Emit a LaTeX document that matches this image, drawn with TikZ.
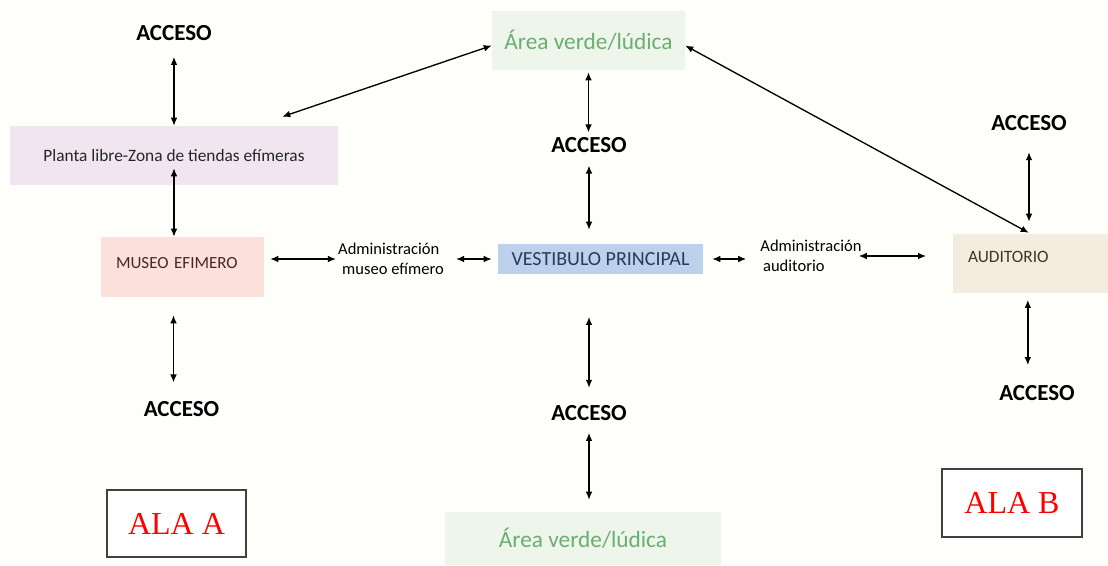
\documentclass[tikz,border=0pt]{standalone}
\usepackage{fontspec}
\setmainfont{Carlito}
\newfontfamily\alafont{Liberation Serif}
\usetikzlibrary{arrows.meta, positioning}

\definecolor{fondo}{HTML}{FEFEFA}
\definecolor{plantafill}{HTML}{F1E5F0}
\definecolor{museofill}{HTML}{FCE0DC}
\definecolor{vestfill}{HTML}{BED1EC}
\definecolor{auditfill}{HTML}{F4EDDF}
\definecolor{verdefill}{HTML}{EEF6EC}
\definecolor{verdetxt}{HTML}{6BAE70}
\definecolor{vesttxt}{HTML}{2B3A55}
\definecolor{museotxt}{HTML}{4A2626}
\definecolor{audittxt}{HTML}{3F3528}
\definecolor{borde}{HTML}{404040}

\tikzset{
  acceso/.style={font=\bfseries\fontsize{17.25}{20}\selectfont, inner sep=0pt},
  zona/.style={rectangle, inner sep=0pt},
  admin/.style={font=\fontsize{12.4}{15}\selectfont, align=left, inner sep=0pt},
  ala/.style={draw=borde, line width=1.1pt, fill=white, text=red,
    font=\alafont\fontsize{24}{28}\selectfont, inner sep=0pt},
  flecha/.style={{Latex[length=6pt,width=5pt]}-{Latex[length=6pt,width=5pt]}, line width=1pt}
}

\begin{document}
\begin{tikzpicture}[x=0.75pt, y=-0.75pt]
  \fill[fondo] (0,0) rectangle (1108,565);
  \useasboundingbox (0,0) rectangle (1108,565);

  % zonas
  \node[zona, fill=verdefill, text=verdetxt, minimum width=144.75pt, minimum height=44.25pt,
    font=\fontsize{17.5}{20}\selectfont] (verde1) at (588.5,40.5) {Área verde/lúdica};
  \node[zona, fill=plantafill, text=black!85, minimum width=246pt, minimum height=44.25pt,
    font=\fontsize{13}{15}\selectfont] (planta) at (174,155.5) {Planta libre-Zona de tiendas efímeras};
  \node[zona, fill=museofill, text=museotxt, minimum width=122.25pt, minimum height=45pt,
    text width=99.75pt, align=left, text depth=6pt,
    font=\fontsize{12.75}{15}\selectfont] (museo) at (182.5,267) {MUSEO EFIMERO};
  \node[zona, fill=vestfill, text=vesttxt, minimum width=153.75pt, minimum height=22.5pt,
    font=\fontsize{15}{18}\selectfont] (vest) at (600.5,259) {VESTIBULO PRINCIPAL};
  \node[zona, fill=auditfill, text=audittxt, minimum width=116.25pt, minimum height=44.25pt,
    text width=93.75pt, align=left, text depth=10pt,
    font=\fontsize{13}{15}\selectfont] (audit) at (1030.5,263.5) {AUDITORIO};
  \node[zona, fill=verdefill, text=verdetxt, minimum width=207pt, minimum height=39.75pt,
    font=\fontsize{17.5}{20}\selectfont] (verde2) at (583,538.5) {Área verde/lúdica};

  % administraciones
  \node[admin] (adm1) at (391,259) {Administración\\ \hspace{3pt}museo efímero};
  \node[admin] (adm2) at (811,256) {Administración\\ \hspace{2pt}auditorio};

  % accesos
  \node[acceso] (acc1) at (174,33) {ACCESO};
  \node[acceso] (acc2) at (589,145) {ACCESO};
  \node[acceso] (acc3) at (1029,123) {ACCESO};
  \node[acceso] (acc4) at (181.5,409) {ACCESO};
  \node[acceso] (acc5) at (589,413) {ACCESO};
  \node[acceso] (acc6) at (1037,393) {ACCESO};

  % alas
  \node[ala, minimum width=104.25pt, minimum height=50.25pt] (alaA) at (176.5,523.5) {ALA A};
  \node[ala, minimum width=105pt, minimum height=51pt] (alaB) at (1012,503) {ALA B};

  % conexiones
  \draw[flecha, shorten <=12pt] (acc1.south) -- (acc1.south |- planta.north);
  \draw[flecha, shorten <=-12.75pt] (planta.south) -- (planta.south |- museo.north);
  \draw[flecha, shorten <=4.5pt, shorten >=1.5pt] (museo.east |- adm1.west) -- (adm1.west);
  \draw[flecha, shorten <=9pt, shorten >=4.5pt] (adm1.east) -- (adm1.east -| vest.west);
  \draw[flecha, shorten <=6.75pt, shorten >=10.5pt] (vest.east) -- (vest.east -| adm2.west);
  \draw[flecha, shorten <=-2.25pt, shorten >=20pt] (adm2.east) -- (adm2.east -| audit.west);
  \draw[flecha, shorten <=16pt, shorten >=9pt] (acc3.south) -- (acc3.south |- audit.north);
  \draw[flecha, shorten <=1.5pt] (audit.north) -- (verde1.-3);
  \draw[flecha] ([xshift=-42pt, yshift=6.75pt]planta.north east) -- (verde1.183);
  \draw[flecha, shorten <=1.5pt, shorten >=3.5pt] (verde1.south) -- (verde1.south |- acc2.north);
  \draw[flecha, shorten <=9.5pt, shorten >=10.5pt] (acc2.south) -- (acc2.south |- vest.north);
  \draw[flecha, shorten <=32pt, shorten >=13pt] (acc5.north |- vest.south) -- (acc5.north);
  \draw[flecha, shorten <=9pt, shorten >=9pt] (acc5.south) -- (acc5.south |- verde2.north);
  \draw[flecha, shorten <=13.5pt, shorten >=14pt] ([xshift=-6.75pt]museo.south) -- ([xshift=-6.75pt]museo.south |- acc4.north);
  \draw[flecha, shorten <=5pt, shorten >=15pt] ([xshift=-2pt]audit.south) -- ([xshift=-2pt]audit.south |- acc6.north);
\end{tikzpicture}
\end{document}
